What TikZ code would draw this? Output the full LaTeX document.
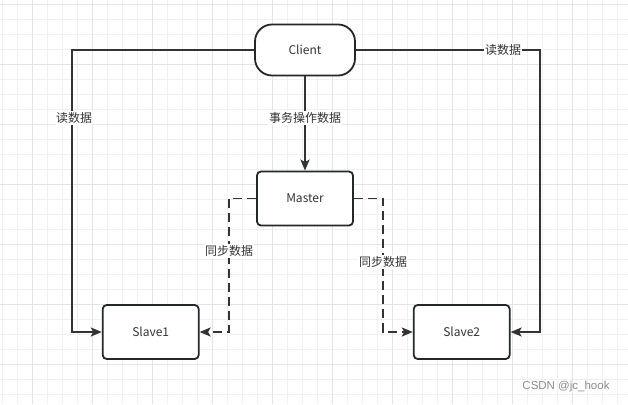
\documentclass[tikz,border=0pt]{standalone}
\usepackage{fontspec}
\setmainfont{Noto Sans CJK SC}
\newfontfamily\wmfont{Liberation Sans}
\usetikzlibrary{arrows.meta}
\definecolor{ink}{HTML}{333333}
\definecolor{boxline}{HTML}{23272E}
\definecolor{gridminor}{HTML}{F0F0F0}
\definecolor{gridmajor}{HTML}{E4E4E4}
\tikzset{
  box/.style={draw=boxline, line width=1.8pt, rounded corners=4pt, fill=white,
    minimum width=96pt, minimum height=54pt, text=ink, font=\fontsize{12}{14}\selectfont},
  pill/.style={draw=boxline, line width=1.8pt, rounded corners=17pt, fill=white,
    minimum width=100pt, minimum height=51pt, text=ink, font=\fontsize{12}{14}\selectfont},
  conn/.style={draw=ink, line width=1.9pt, -{Stealth[length=11pt,width=9pt,inset=2.5pt]}},
  syncconn/.style={conn, dash pattern=on 9pt off 5pt},
  lbl/.style={fill=white, inner sep=1pt, text=ink, font=\fontsize{12}{14}\selectfont},
}
\begin{document}
\begin{tikzpicture}[x=1pt,y=-1pt]
\useasboundingbox (0,0) rectangle (628,404);
\fill[white] (0,0) rectangle (628,404);
% grid
\foreach \i in {0,...,41} {
  \pgfmathsetmacro\gx{2.5+15*\i}
  \draw[gridminor, line width=0.8pt] (\gx,0) -- (\gx,404);
}
\foreach \i in {0,...,26} {
  \pgfmathsetmacro\gy{4+15*\i}
  \draw[gridminor, line width=0.8pt] (0,\gy) -- (628,\gy);
}
\foreach \i in {0,...,10} {
  \pgfmathsetmacro\gx{32.5+60*\i}
  \draw[gridmajor, line width=0.8pt] (\gx,0) -- (\gx,404);
}
\foreach \i in {0,...,6} {
  \pgfmathsetmacro\gy{4+60*\i}
  \draw[gridmajor, line width=0.8pt] (0,\gy) -- (628,\gy);
}
% nodes
\node[pill] (client) at (305,50) {Client};
\node[box] (master) at (305,198.5) {Master};
\node[box] (slave1) at (150.7,332) {Slave1};
\node[box] (slave2) at (461.7,332) {Slave2};
% helper coordinates
\coordinate (lt) at (72,50);
\coordinate (lb) at (72,332);
\coordinate (rt) at (540,50);
\coordinate (rb) at (540,332);
\coordinate (mlt) at (229,198.5);
\coordinate (mlb) at (229,332);
\coordinate (mrt) at (383,198.5);
\coordinate (mrb) at (383,332);
% connectors
\draw[conn] (client.west) -- (lt) -- (lb) -- (slave1.west);
\draw[conn] (client.east) -- (rt) -- (rb) -- (slave2.east);
\draw[conn] (client.south) -- (master.north);
\draw[syncconn] (master.west) -- (mlt) -- (mlb) -- (slave1.east);
\draw[syncconn] (master.east) -- (mrt) -- (mrb) -- (slave2.west);
% labels
\node[lbl] (l1) at (74,118) {读数据};
\node[lbl] (l2) at (503,50) {读数据};
\node[lbl] (l3) at (305,118) {事务操作数据};
\node[lbl] (l4) at (229,251) {同步数据};
\node[lbl] (l5) at (383,262) {同步数据};
% watermark
\node[text=black!45, font=\wmfont\fontsize{11.5}{13}\selectfont, inner sep=0pt] (wm) at (566,387) {CSDN @jc\_hook};
\end{tikzpicture}
\end{document}
